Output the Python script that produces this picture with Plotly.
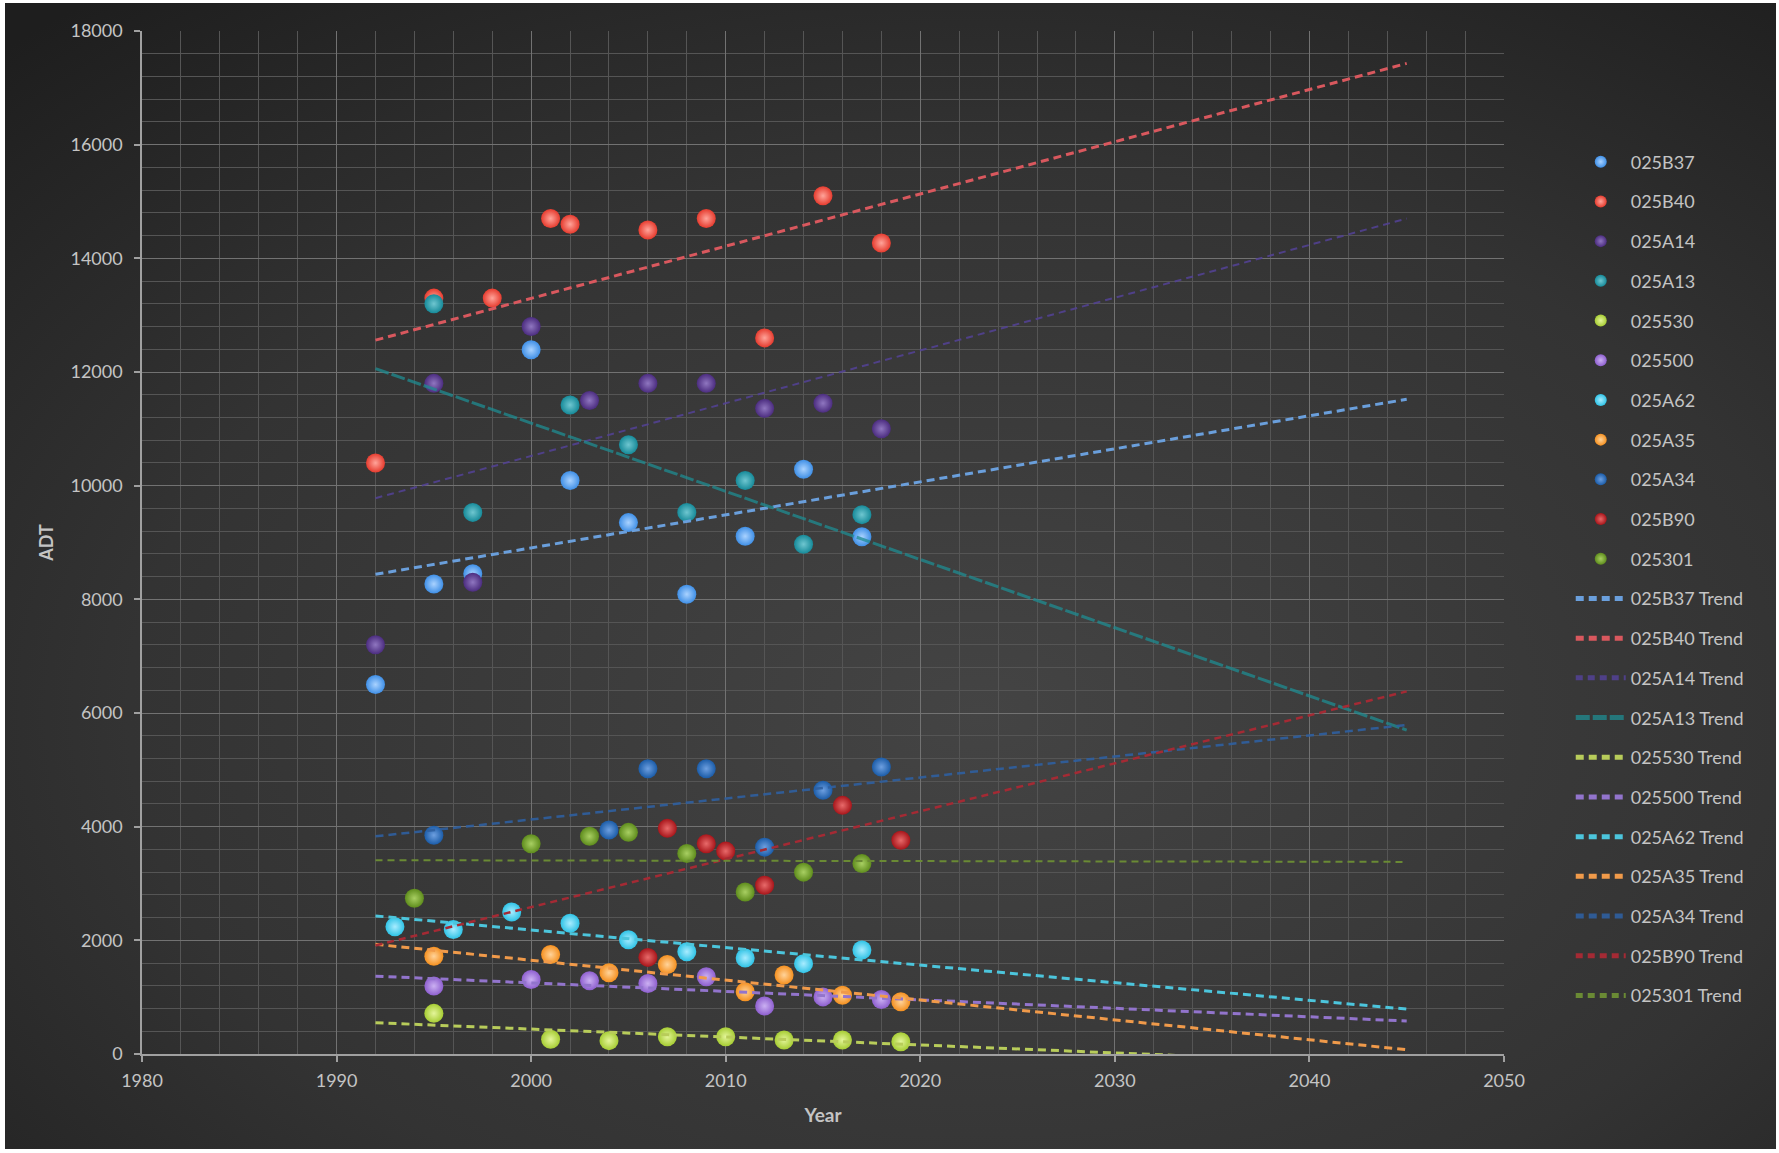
import base64
import plotly.graph_objects as go

# ---- station counts (year, ADT) ----
names = ["025B37", "025B40", "025A14", "025A13", "025530", "025500",
         "025A62", "025A35", "025A34", "025B90", "025301"]

years_B37 = [1992, 1995, 1997, 2000, 2002, 2005, 2008, 2011, 2014, 2017]
adt_B37 = [6500, 8270, 8450, 12390, 10090, 9350, 8090, 9110, 10290, 9100]

years_B40 = [1992, 1995, 1998, 2001, 2002, 2006, 2009, 2012, 2015, 2018]
adt_B40 = [10400, 13300, 13300, 14700, 14600, 14500, 14700, 12600, 15100, 14270]

years_A14 = [1992, 1995, 1997, 2000, 2003, 2006, 2009, 2012, 2015, 2018]
adt_A14 = [7200, 11800, 8300, 12800, 11500, 11800, 11800, 11360, 11450, 11000]

years_A13 = [1995, 1997, 2002, 2005, 2008, 2011, 2014, 2017]
adt_A13 = [13200, 9530, 11420, 10720, 9530, 10090, 8970, 9490]

years_530 = [1995, 2001, 2004, 2007, 2010, 2013, 2016, 2019]
adt_530 = [715, 258, 235, 305, 305, 246, 246, 217]

years_500 = [1995, 2000, 2003, 2006, 2009, 2012, 2015, 2018]
adt_500 = [1195, 1310, 1290, 1240, 1360, 845, 1005, 960]

years_A62 = [1993, 1996, 1999, 2002, 2005, 2008, 2011, 2014, 2017]
adt_A62 = [2240, 2190, 2500, 2300, 2010, 1800, 1690, 1590, 1830]

years_A35 = [1995, 2001, 2004, 2007, 2011, 2013, 2016, 2019]
adt_A35 = [1720, 1750, 1430, 1575, 1095, 1390, 1035, 920]

years_A34 = [1995, 2004, 2006, 2009, 2012, 2015, 2018]
adt_A34 = [3850, 3940, 5020, 5020, 3640, 4640, 5050]

years_B90 = [2006, 2007, 2009, 2010, 2012, 2016, 2019]
adt_B90 = [1700, 3970, 3700, 3570, 2970, 4375, 3760]

years_301 = [1994, 2000, 2003, 2005, 2008, 2011, 2014, 2017]
adt_301 = [2740, 3700, 3830, 3900, 3530, 2850, 3200, 3350]

# ---- linear trend lines, projected to 2045 ----
trend_years = [1992, 2045]
trend_B37 = [8440, 11520]
trend_B40 = [12560, 17430]
trend_A14 = [9780, 14700]
trend_A13 = [12060, 5700]
trend_530 = [550, -190]
trend_500 = [1370, 580]
trend_A62 = [2430, 790]
trend_A35 = [1930, 75]
trend_A34 = [3830, 5790]
trend_B90 = [1910, 6380]
trend_301 = [3410, 3380]

x_ticks = [1980, 1990, 2000, 2010, 2020, 2030, 2040, 2050]
y_ticks = [0, 2000, 4000, 6000, 8000, 10000, 12000, 14000, 16000, 18000]

series_years = [years_B37, years_B40, years_A14, years_A13, years_530, years_500,
                years_A62, years_A35, years_A34, years_B90, years_301]
series_adt = [adt_B37, adt_B40, adt_A14, adt_A13, adt_530, adt_500,
              adt_A62, adt_A35, adt_A34, adt_B90, adt_301]
series_trend = [trend_B37, trend_B40, trend_A14, trend_A13, trend_530, trend_500,
                trend_A62, trend_A35, trend_A34, trend_B90, trend_301]

marker_colors = ["#3f8fe6", "#e63b2e", "#4b2c7f", "#168a99", "#a6cc33", "#8e5fcf",
                 "#2fc3e6", "#f5901f", "#1b5ca8", "#a8151a", "#5e8c1c"]
highlight_colors = ["#a9d2ff", "#ffa49a", "#8f76c0", "#6fc6d0", "#e4f59a", "#cbb0f2",
                    "#a8ecff", "#ffd39a", "#6d9fe0", "#e86a6a", "#a8cf62"]
trend_colors = ["#6a9fdc", "#d9585e", "rgba(84,66,150,0.85)", "rgba(31,140,145,0.75)",
                "#b8cc5a", "#9274cc", "#4cc5dc", "#f09a4a", "rgba(47,95,160,0.9)",
                "#a42a34", "#6a8a34"]
trend_widths = [3, 3, 2, 3, 3, 3, 3, 3, 2.5, 2.5, 2]
trend_dash = ["8px,5px", "8px,5px", "7px,5px", "14px,3px", "8px,5px", "8px,5px",
              "8px,5px", "8px,5px", "8px,5px", "7px,5px", "7px,5px"]

FONT = "Lato"
TEXT = "#c4c4c4"

fig = go.Figure()

for i, name in enumerate(names):
    fig.add_trace(go.Scatter(
        x=series_years[i], y=series_adt[i], mode="markers", name=name,
        legendgroup=name,
        marker=dict(size=19, color=marker_colors[i], line=dict(width=0),
                    gradient=dict(type="radial", color=highlight_colors[i])),
    ))

for i, name in enumerate(names):
    fig.add_trace(go.Scatter(
        x=trend_years, y=series_trend[i], mode="lines", name=name + " Trend",
        legendgroup=name + " Trend",
        line=dict(color=trend_colors[i], width=trend_widths[i], dash=trend_dash[i]),
    ))

# chalkboard-style backdrop with a thin white frame
W, H = 1779, 1153
svg = (
    f"<svg xmlns='http://www.w3.org/2000/svg' width='{W}' height='{H}'>"
    "<defs><radialGradient id='g' cx='0.55' cy='0.62' r='0.8'>"
    "<stop offset='0' stop-color='#444444'/>"
    "<stop offset='0.6' stop-color='#333333'/>"
    "<stop offset='1' stop-color='#1e1e1e'/>"
    "</radialGradient></defs>"
    f"<rect width='{W}' height='{H}' fill='#ffffff'/>"
    f"<rect x='5' y='3' width='{W-8}' height='{H-7}' fill='url(#g)'/>"
    "</svg>"
)
svg_uri = "data:image/svg+xml;base64," + base64.b64encode(svg.encode()).decode()

ML, MR, MT, MB = 142, 275, 31, 99
pw, ph = W - ML - MR, H - MT - MB

fig.add_layout_image(dict(
    source=svg_uri, xref="paper", yref="paper",
    x=-ML / pw, y=1 + MT / ph, sizex=W / pw, sizey=H / ph,
    xanchor="left", yanchor="top", sizing="stretch", layer="below",
))

axis_common = dict(
    showline=True, linecolor="#a0a0a0", linewidth=1.5,
    ticks="outside", ticklen=6, tickcolor="#a0a0a0", tickwidth=1.5,
    gridcolor="#727272", gridwidth=1,
    zeroline=False,
    tickfont=dict(family=FONT, size=18, color=TEXT),
)

fig.update_layout(
    width=W, height=H,
    margin=dict(l=ML, r=MR, t=MT, b=MB),
    paper_bgcolor="#ffffff",
    plot_bgcolor="rgba(255,255,255,0.08)",
    font=dict(family=FONT, color=TEXT),
    xaxis=dict(
        range=[1980, 2050], tickvals=x_ticks, ticktext=[str(v) for v in x_ticks],
        minor=dict(dtick=2, showgrid=True, gridcolor="#555555", gridwidth=1),
        title=dict(text="<b>Year</b>", font=dict(family=FONT, size=19, color=TEXT), standoff=18),
        ticklabelstandoff=4,
        **axis_common,
    ),
    yaxis=dict(
        range=[0, 18000], tickvals=y_ticks, ticktext=[str(v) for v in y_ticks],
        minor=dict(dtick=400, showgrid=True, gridcolor="#555555", gridwidth=1),
        title=dict(text="<b>ADT</b>", font=dict(family=FONT, size=18, color=TEXT), standoff=12),
        ticklabelstandoff=8,
        **axis_common,
    ),
    legend=dict(
        x=1.049, xanchor="left", y=0.89, yanchor="top",
        bgcolor="rgba(0,0,0,0)", borderwidth=0,
        font=dict(family=FONT, size=18, color=TEXT),
        traceorder="grouped", tracegroupgap=13.3, itemsizing="constant",
        itemwidth=50,
    ),
    showlegend=True,
)

fig.write_html("out.html")
